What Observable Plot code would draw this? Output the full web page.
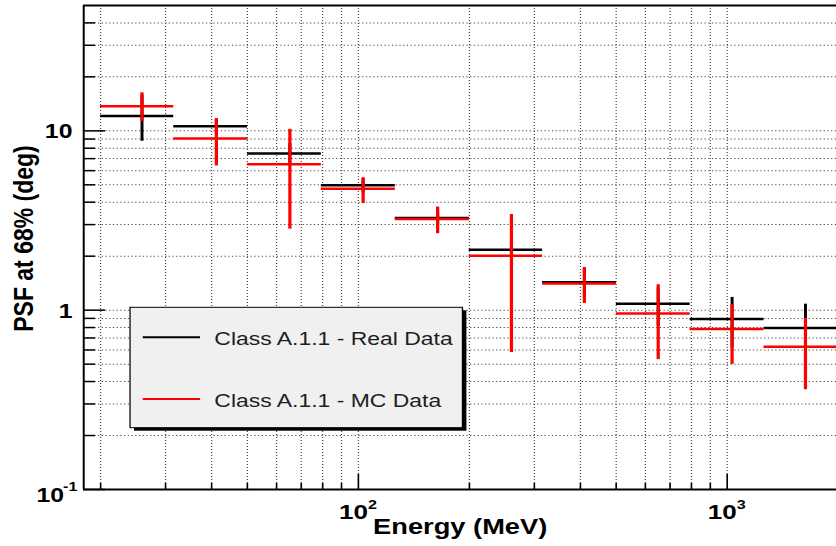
<!DOCTYPE html>
<html><head><meta charset="utf-8">
<script src="https://cdn.jsdelivr.net/npm/d3@7"></script>
<script src="https://cdn.jsdelivr.net/npm/@observablehq/plot@0.6"></script>
<style>html,body{margin:0;padding:0;background:#fff;overflow:hidden}</style>
</head><body><div id="chart"></div>
<script>
// ---- data ----
const binEdges   = [20, 31.6, 50.1, 79.4, 126, 200, 316, 501, 794, 1259, 1995];
const binCenters = [25.9, 41.2, 65.2, 103, 164, 260, 410, 650, 1031, 1630];

const realPsf  = [12.1, 10.6, 7.47, 4.97, 3.27, 2.17, 1.43, 1.085, 0.894, 0.796];
const realLow  = [8.75, 9.6, 6.6, 4.5, 3.0, 1.87, 1.16, 0.814, 0.618, 0.525];
const realHigh = [15.8, 11.6, 8.5, 5.4, 3.57, 2.42, 1.72, 1.33, 1.178, 1.08];

const mcPsf    = [13.7, 9.06, 6.51, 4.76, 3.22, 2.01, 1.41, 0.958, 0.786, 0.626];
const mcLow    = [11.3, 6.37, 2.83, 3.93, 2.67, 0.58, 1.09, 0.53, 0.499, 0.36];
const mcHigh   = [16.3, 11.7, 10.2, 5.48, 3.76, 3.42, 1.73, 1.386, 1.076, 0.899];

const seriesNames  = ["Class A.1.1 - Real Data", "Class A.1.1 - MC Data"];
const seriesColors = ["#000000", "#ff0000"];

const xTickValues = [100, 1000];
const xTickBase   = ["10", "10"];
const xTickExp    = ["2", "3"];
const yTickValues = [0.1, 1, 10];
const yTickBase   = ["10", "1", "10"];
const yTickExp    = ["-1", "", ""];
const xMinor = [20, 30, 40, 50, 60, 70, 80, 90, 200, 300, 400, 500, 600, 700, 800, 900];
const yMinor = [0.2, 0.3, 0.4, 0.5, 0.6, 0.7, 0.8, 0.9, 2, 3, 4, 5, 6, 7, 8, 9, 20, 30, 40];
const xGrid = [20, 30, 40, 50, 60, 70, 80, 90, 100, 200, 300, 400, 500, 600, 700, 800, 900, 1000];
const yGrid = [0.2, 0.3, 0.4, 0.5, 0.6, 0.7, 0.8, 0.9, 1, 2, 3, 4, 5, 6, 7, 8, 9, 10, 20, 30, 40];
const xDomain = [18, 1980];
const yDomain = [0.1, 50];
const xLabel = "Energy (MeV)";
const yLabel = "PSF at 68% (deg)";

// ---- build tables ----
function rows(psf, lo, hi, s) {
  return psf.map((v, i) => ({x1: binEdges[i], x2: binEdges[i + 1], xc: binCenters[i], v, lo: lo[i], hi: hi[i], series: s}));
}
const real = rows(realPsf, realLow, realHigh, seriesNames[0]);
const mc = rows(mcPsf, mcLow, mcHigh, seriesNames[1]);
const xTicks = xTickValues.map((v, i) => ({v, base: xTickBase[i], exp: xTickExp[i]}));
const yTicks = yTickValues.map((v, i) => ({v, base: yTickBase[i], exp: yTickExp[i]}));

// the reference is horizontally stretched; draw in a narrower box and stretch
const SX = 1.24;
const W = 674, H = 546;
const mL = 67, mR = 0, mT = 5, mB = 57;
const plotW = W - mL - mR, plotH = H - mT - mB;
const grid = {stroke: "#4a4a4a", strokeDasharray: "1,2", strokeWidth: 1};

const svg = Plot.plot({
  width: W, height: H,
  marginLeft: mL, marginRight: mR, marginTop: mT, marginBottom: mB,
  style: {fontFamily: "'Liberation Sans', Arial, Helvetica, sans-serif", background: "white", color: "black"},
  x: {type: "log", domain: xDomain, axis: null},
  y: {type: "log", domain: yDomain, axis: null},
  marks: [
    Plot.ruleX(xGrid, {x: d => d, ...grid}),
    Plot.ruleY(yGrid, {y: d => d, ...grid}),
    // inward ticks
    Plot.tickY(yMinor, {y: d => d, insetRight: plotW - 9.7, stroke: "black", strokeWidth: 1.5}),
    Plot.tickY(yTickValues, {y: d => d, insetRight: plotW - 17.7, stroke: "black", strokeWidth: 1.5}),
    Plot.tickX(xMinor, {x: d => d, insetTop: plotH - 6, stroke: "black", strokeWidth: 1.3}),
    Plot.tickX(xTickValues, {x: d => d, insetTop: plotH - 15, stroke: "black", strokeWidth: 1.3}),
    // axis lines
    Plot.ruleX([xDomain[0]], {x: d => d, stroke: "black", strokeWidth: 1.6}),
    Plot.ruleY([yDomain[0]], {y: d => d, stroke: "black", strokeWidth: 2}),
    Plot.ruleY([yDomain[1]], {y: d => d, stroke: "black", strokeWidth: 2.2}),
    // data: real (black)
    Plot.ruleY(real, {y: "v", x1: "x1", x2: "x2", stroke: seriesColors[0], strokeWidth: 2.5}),
    Plot.ruleX(real, {x: "xc", y1: "lo", y2: "hi", stroke: seriesColors[0], strokeWidth: 2.4}),
    // data: MC (red)
    Plot.ruleY(mc, {y: "v", x1: "x1", x2: "x2", stroke: seriesColors[1], strokeWidth: 2.5}),
    Plot.ruleX(mc, {x: "xc", y1: "lo", y2: "hi", stroke: seriesColors[1], strokeWidth: 2.6}),
    // x tick labels
    Plot.text(xTicks, {x: "v", text: "base", frameAnchor: "bottom", textAnchor: "end", lineAnchor: "bottom", dx: 7.7, dy: 29.5, fontSize: 21, fontWeight: "bold"}),
    Plot.text(xTicks, {x: "v", text: "exp", frameAnchor: "bottom", textAnchor: "start", lineAnchor: "bottom", dx: 7.7, dy: 19.5, fontSize: 13, fontWeight: "bold"}),
    // y tick labels
    Plot.text(yTicks, {filter: d => d.exp === "", y: "v", text: "base", frameAnchor: "left", textAnchor: "end", lineAnchor: "middle", dx: -9.1, dy: 1, fontSize: 20, fontWeight: "bold"}),
    Plot.text(yTicks, {filter: d => d.exp !== "", y: "v", text: "base", frameAnchor: "left", textAnchor: "end", lineAnchor: "middle", dx: -15.9, dy: 6, fontSize: 20, fontWeight: "bold"}),
    Plot.text(yTicks, {filter: d => d.exp !== "", y: "v", text: "exp", frameAnchor: "left", textAnchor: "end", lineAnchor: "middle", dx: -5.1, dy: -2.5, fontSize: 13, fontWeight: "bold"}),
    // axis titles
    Plot.text([xLabel], {text: d => d, frameAnchor: "bottom", textAnchor: "middle", lineAnchor: "bottom", dy: 44.3, fontSize: 22, fontWeight: "bold"}),
    Plot.text([yLabel], {text: d => d, frameAnchor: "left", textAnchor: "middle", rotate: -90, lineAnchor: "bottom", dx: -40.7, dy: -9, fontSize: 23, fontWeight: "bold"})
  ]
});

// legend (box with shadow), drawn in the same internal coordinates
const g = d3.select(svg).append("g").attr("class", "legend");
const lx = 130 / SX, lx2 = 462.3 / SX, ly = 307.3, ly2 = 427.7;
g.append("rect").attr("x", lx + 3.2).attr("y", ly + 3).attr("width", lx2 - lx).attr("height", ly2 - ly).attr("fill", "black");
g.append("rect").attr("x", lx).attr("y", ly).attr("width", lx2 - lx).attr("height", ly2 - ly).attr("fill", "#f0f0f0").attr("stroke", "black").attr("stroke-width", 1);
const legY = [337.3, 399];
const legTextY = [345, 406.7];
seriesNames.forEach((name, i) => {
  g.append("line").attr("x1", 142.7 / SX).attr("x2", 200 / SX).attr("y1", legY[i]).attr("y2", legY[i])
    .attr("stroke", seriesColors[i]).attr("stroke-width", 2);
  g.append("text").attr("x", 214.3 / SX).attr("y", legTextY[i]).attr("font-size", 18.5)
    .attr("text-anchor", "start")
    .attr("fill", "#1e1e1e").attr("font-family", "'Liberation Sans', Arial, Helvetica, sans-serif").text(name);
});

// stretch horizontally
svg.setAttribute("viewBox", `0 0 ${W} ${H}`);
svg.setAttribute("width", 836);
svg.setAttribute("height", 546);
svg.setAttribute("preserveAspectRatio", "none");
svg.style.maxWidth = "none";
svg.style.width = "836px";
svg.style.height = "546px";
svg.style.display = "block";
document.getElementById("chart").appendChild(svg);
</script>
</body></html>
